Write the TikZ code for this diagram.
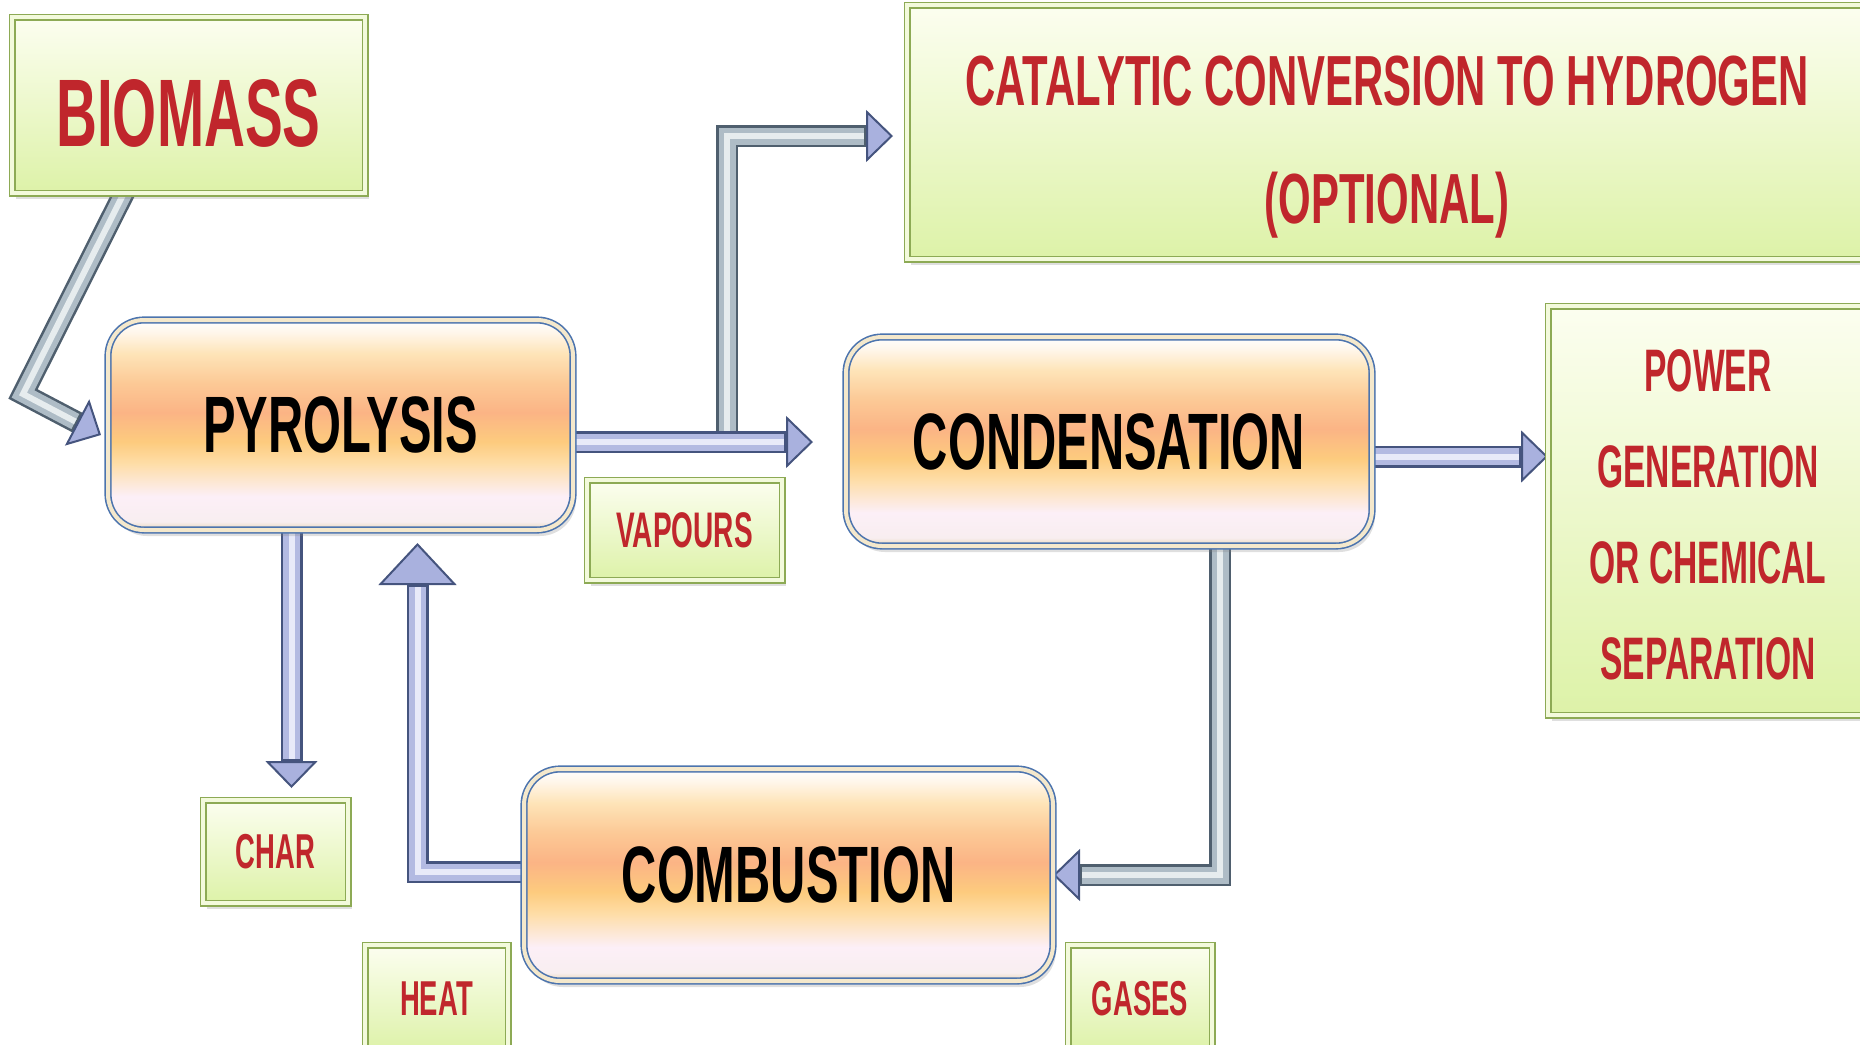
\documentclass[tikz,border=0pt]{standalone}
\usepackage{fontspec}
\usetikzlibrary{arrows.meta,calc,shadows}
\newfontfamily\blkfont[FakeStretch=0.61]{Liberation Sans}
\newfontfamily\redfont[FakeStretch=0.56]{Liberation Sans}
\newfontfamily\redwide[FakeStretch=0.59]{Liberation Sans}
\newfontfamily\redbig[FakeStretch=0.59]{Liberation Sans}
\definecolor{gtop}{HTML}{FCFEF0}
\definecolor{gbot}{HTML}{DDF2A8}
\definecolor{gedge}{HTML}{8DAA55}
\definecolor{glight}{HTML}{F3FADC}
\definecolor{redtxt}{HTML}{C0262C}
\definecolor{pblue}{HTML}{4C74AE}
\definecolor{pring}{HTML}{F4E8CC}
\definecolor{pc0}{HTML}{E6D5B5}
\definecolor{pc1}{HTML}{F8EEF0}
\definecolor{pc2}{HTML}{FCEFF7}
\definecolor{pc3}{HTML}{FEDDA6}
\definecolor{pc4}{HTML}{FDCB7E}
\definecolor{pc5}{HTML}{FBB485}
\definecolor{pc6}{HTML}{FCC996}
\definecolor{pc7}{HTML}{FEE4B8}
\definecolor{pc8}{HTML}{FFF6EA}
\definecolor{pc9}{HTML}{FFFFFF}
\definecolor{adark}{HTML}{45547E}
\definecolor{amid}{HTML}{B3BAE2}
\definecolor{alight}{HTML}{E8EAF9}
\definecolor{ahead}{HTML}{A9B1DE}
\definecolor{gdark}{HTML}{4F5F6E}
\definecolor{gmid}{HTML}{AEBCC6}
\definecolor{glite}{HTML}{E6ECEE}
\pgfdeclareverticalshading{procshade}{100bp}{color(0bp)=(pc0); color(25bp)=(pc0); color(27bp)=(pc1); color(33bp)=(pc2); color(41bp)=(pc3); color(46bp)=(pc4); color(53bp)=(pc5); color(60bp)=(pc6); color(67bp)=(pc7); color(72bp)=(pc8); color(75bp)=(pc9); color(100bp)=(pc9)}
\pgfdeclarelayer{bg}
\pgfsetlayers{bg,main}
\begin{document}
\begin{tikzpicture}[x=1pt,y=-1pt,
  proc/.style={shade, shading=procshade, rounded corners=36pt, draw=pblue, line width=1.6pt,
    double=pring, double distance=4pt, inner sep=0pt, outer sep=0pt,
    drop shadow={shadow xshift=3pt, shadow yshift=-6pt, opacity=0.25},
    font=\blkfont\bfseries\fontsize{80}{90}\selectfont, text=black},
  gbox/.style={shade, top color=gtop, bottom color=gbot, draw=gedge, line width=1.5pt,
    double=glight, double distance=4pt, inner sep=0pt, outer sep=0pt,
    drop shadow={shadow xshift=4pt, shadow yshift=-6pt, opacity=0.25},
    text=redtxt, align=center},
  flow/.style={draw=adark, line width=22pt, line join=miter,
    -{Triangle[length=27pt,width=52pt,fill=ahead,color=adark,line width=2pt]},
    postaction={draw=amid, line width=17pt, arrows=-, shorten >=29pt},
    postaction={draw=alight, line width=6pt, arrows=-, shorten >=29pt}},
  flowgrey/.style={draw=gdark, line width=22pt, line join=miter,
    -{Triangle[length=27pt,width=52pt,fill=ahead,color=adark,line width=2pt]},
    postaction={draw=gmid, line width=17pt, arrows=-, shorten >=29pt},
    postaction={draw=glite, line width=6pt, arrows=-, shorten >=29pt}},
  flowbig/.style={draw=adark, line width=22pt, line join=miter,
    -{Triangle[length=42pt,width=78pt,fill=ahead,color=adark,line width=2pt]},
    postaction={draw=amid, line width=17pt, arrows=-, shorten >=44pt},
    postaction={draw=alight, line width=6pt, arrows=-, shorten >=44pt}}
]
\useasboundingbox (0,0) rectangle (1860,1044);

% green boxes
\node[gbox, minimum width=353pt, minimum height=176pt, text height=82pt, text depth=0pt,
  font=\redbig\bfseries\fontsize{96}{110}\selectfont] (biomass) at (188.5,105) {BIOMASS};
\node[gbox, minimum width=960pt, minimum height=254pt,
  font=\redwide\bfseries\fontsize{71}{118}\selectfont] (cat) at (1387,132)
  {\rule{0pt}{80pt}CATALYTIC CONVERSION TO HYDROGEN\\(OPTIONAL)};
\node[gbox, minimum width=320pt, minimum height=409pt,
  font=\redfont\bfseries\fontsize{60}{96}\selectfont] (power) at (1708,510.5)
  {\rule{0pt}{50pt}POWER\\GENERATION\\OR CHEMICAL\\SEPARATION};
\node[gbox, minimum width=195pt, minimum height=100pt,
  font=\redfont\bfseries\fontsize{50}{60}\selectfont] (vap) at (684.5,530) {VAPOURS};
\node[gbox, minimum width=145pt, minimum height=103pt,
  font=\redfont\bfseries\fontsize{49}{60}\selectfont] (char) at (275.5,851.5) {CHAR};
\node[gbox, minimum width=143pt, minimum height=107pt,
  font=\redfont\bfseries\fontsize{49}{60}\selectfont] (heat) at (436.5,998.5) {HEAT};
\node[gbox, minimum width=144pt, minimum height=107pt,
  font=\redfont\bfseries\fontsize{49}{60}\selectfont] (gases) at (1140,998.5) {GASES};

% process boxes
\node[proc, minimum width=465pt, minimum height=210pt] (pyro) at (340.5,425) {PYROLYSIS};
\node[proc, minimum width=526pt, minimum height=209pt] (cond) at (1109,441.5) {CONDENSATION};
\node[proc, minimum width=529pt, minimum height=212pt] (comb) at (788.5,875) {COMBUSTION};

% helper coordinates
\coordinate (bstart) at ($(biomass.south west)+(117,-10)$);
\coordinate (bend) at ($(pyro.west)+(-85,-31)$);
\coordinate (btip) at ($(pyro.west)+(-7,10)$);
\coordinate (p2c) at ($(pyro.east)+(-8,17)$);
\coordinate (p2ctip) at ($(pyro.east -| cond.west)+(-33,17)$);
\coordinate (brstart) at ($(pyro.east)+(154,17)$);
\coordinate (brtip) at ($(cat.west)+(-14,4)$);
\coordinate (c2p) at ($(cond.east)+(-8,15)$);
\coordinate (chstart) at ($(pyro.south)+(-49,-8)$);
\coordinate (chtip) at ($(pyro.south)+(-49,258)$);
\coordinate (htip) at ($(pyro.south)+(77,13)$);
\coordinate (gstart) at ($(cond.south)+(111,-8)$);

\begin{pgfonlayer}{bg}
\draw[flowgrey] (bstart) -- (bend) -- (btip);
\draw[flowgrey] (brstart) |- (brtip);
\draw[flow] (p2c) -- (p2ctip);
\draw[flow] (c2p) -- (c2p -| power.west);
\draw[flow] (chstart) -- (chtip);
\draw[flowbig] ($(comb.west)+(8,-3)$) -| (htip);
\draw[flowgrey] (gstart) |- (comb.east);
\end{pgfonlayer}
\end{tikzpicture}
\end{document}
